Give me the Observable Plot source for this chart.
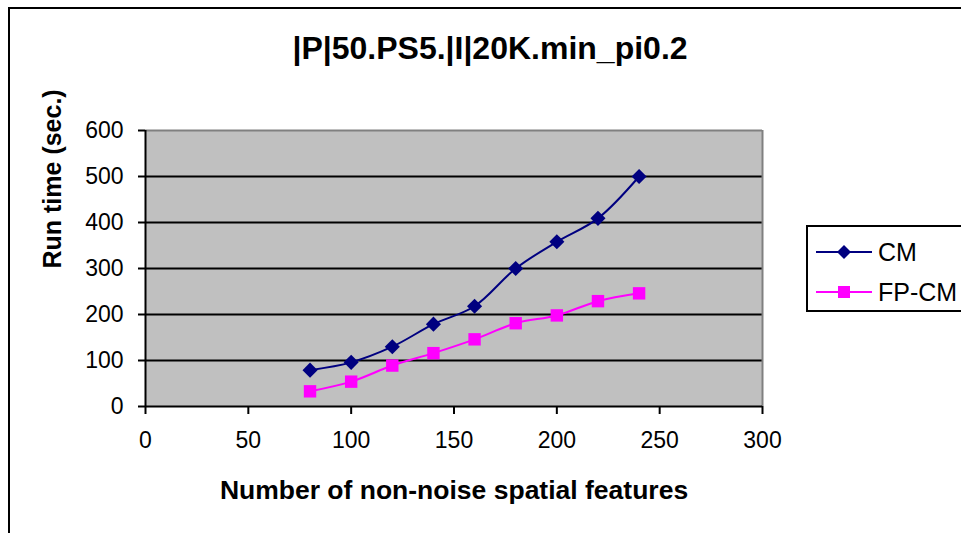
<!DOCTYPE html>
<html>
<head>
<meta charset="utf-8">
<script src="https://cdn.jsdelivr.net/npm/d3@7"></script>
<script src="https://cdn.jsdelivr.net/npm/@observablehq/plot@0.6"></script>
<style>
  html, body { margin: 0; padding: 0; background: #fff; }
  #chart { position: relative; width: 961px; height: 533px; overflow: hidden; font-family: "Liberation Sans", Arial, sans-serif; }
  #chart svg.plot { position: absolute; left: 0; top: 0; }
  #border { position: absolute; left: 8px; top: 7px; width: 1000px; height: 600px; border-left: 2px solid #000; border-top: 2px solid #000; }
  #legend { position: absolute; left: 806px; top: 225px; width: 170px; height: 83px; border: 2px solid #000; background: #fff; }
  .lg-row { position: absolute; left: 8px; height: 30px; display: flex; align-items: center; font-size: 25px; color: #000; }
  .lg-row svg { margin-right: 6px; }
</style>
</head>
<body>
<div id="chart">
  <div id="border"></div>
</div>
<script>
// Number of non-noise spatial features vs. run time for the two miners
const features = [80, 100, 120, 140, 160, 180, 200, 220, 240];
const cmTimes = [79, 96, 130, 179, 218, 300, 358, 409, 500];
const fpcmTimes = [33, 54, 89, 116, 146, 181, 198, 229, 246];
const seriesNames = ["CM", "FP-CM"];
const seriesColors = ["#000080", "#FF00FF"];
const xTicks = [0, 50, 100, 150, 200, 250, 300];
const yTicks = [0, 100, 200, 300, 400, 500, 600];
const gridValues = [100, 200, 300, 400, 500];
const titleText = "|P|50.PS5.|I|20K.min_pi0.2";
const xLabel = "Number of non-noise spatial features";
const yLabel = "Run time (sec.)";

const cmRows = features.map((f, i) => ({x: f, y: cmTimes[i]}));
const fpRows = features.map((f, i) => ({x: f, y: fpcmTimes[i]}));

const chart = Plot.plot({
  width: 961,
  height: 533,
  marginLeft: 145,
  marginRight: 199,
  marginTop: 130,
  marginBottom: 127,
  style: {fontFamily: "'Liberation Sans', Arial, sans-serif", fontSize: "23px", color: "#000", background: "transparent", overflow: "visible"},
  x: {domain: [0, 300]},
  y: {domain: [0, 600]},
  marks: [
    Plot.frame({fill: "#C0C0C0", stroke: null}),
    Plot.ruleY(gridValues, {stroke: "#000", strokeWidth: 2}),
    Plot.ruleY([600], {stroke: "#808080", strokeWidth: 2}),
    Plot.ruleX([300], {stroke: "#808080", strokeWidth: 2}),
    Plot.ruleY([0], {stroke: "#000", strokeWidth: 2}),
    Plot.ruleX([0], {stroke: "#000", strokeWidth: 2}),
    Plot.axisX({ticks: xTicks, tickSize: 8, tickPadding: 17, strokeWidth: 2, label: null, tickFormat: d => String(d)}),
    Plot.axisY({ticks: yTicks, tickSize: 7, tickPadding: 15, strokeWidth: 2, label: null, tickFormat: d => String(d)}),
    Plot.line(cmRows, {x: "x", y: "y", stroke: seriesColors[0], strokeWidth: 2, curve: "catmull-rom"}),
    Plot.line(fpRows, {x: "x", y: "y", stroke: seriesColors[1], strokeWidth: 2, curve: "catmull-rom"}),
    Plot.dot(cmRows, {x: "x", y: "y", symbol: "diamond2", r: 6.8, fill: seriesColors[0], stroke: null}),
    Plot.dot(fpRows, {x: "x", y: "y", symbol: "square", r: 7, fill: seriesColors[1], stroke: null}),
    Plot.text([titleText], {text: d => d, frameAnchor: "top", dx: 36, dy: -82, fontSize: 32, fontWeight: "bold", textAnchor: "middle", lineAnchor: "middle"}),
    Plot.text([xLabel], {text: d => d, frameAnchor: "bottom", dy: 84, fontSize: 26.5, fontWeight: "bold", lineAnchor: "middle"}),
    Plot.text([yLabel], {text: d => d, frameAnchor: "left", dx: -93, rotate: -90, fontSize: 25, fontWeight: "bold", lineAnchor: "middle"})
  ]
});
document.getElementById("chart").appendChild(chart);

// Legend box on the right
const legend = document.createElement("div");
legend.id = "legend";
seriesNames.forEach((name, i) => {
  const row = document.createElement("div");
  row.className = "lg-row";
  row.style.top = (i === 0 ? 10 : 50) + "px";
  const sym = i === 0
    ? `<path d="M28,2 L35,9 L28,16 L21,9 Z" fill="${seriesColors[i]}"/>`
    : `<rect x="22" y="3" width="12" height="12" fill="${seriesColors[i]}"/>`;
  row.innerHTML = `<svg width="56" height="18"><line x1="0" y1="9" x2="56" y2="9" stroke="${seriesColors[i]}" stroke-width="2"/>${sym}</svg><span>${name}</span>`;
  legend.appendChild(row);
});
document.getElementById("chart").appendChild(legend);
</script>
</body>
</html>
